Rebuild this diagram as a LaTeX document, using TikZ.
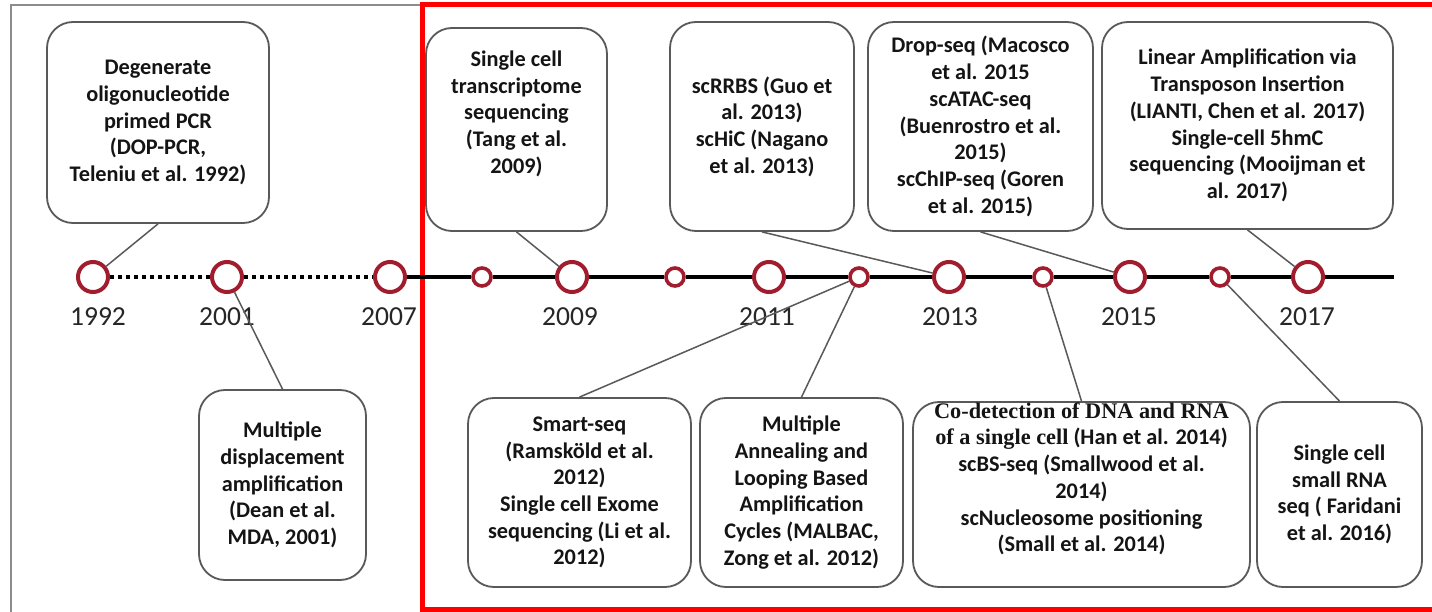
\documentclass[tikz,border=0pt]{standalone}
\usepackage{fontspec}
\setmainfont{Carlito}
\newfontfamily\tnr{Liberation Serif}
\definecolor{ringred}{HTML}{A11D2E}
\begin{document}
\begin{tikzpicture}[x=1pt,y=-1pt,
  box/.style={draw=black!65, line width=1.8pt, rounded corners=26pt, fill=white,
    align=center, inner sep=0pt, text=black!92,
    font=\fontsize{22.3}{26.7}\selectfont\bfseries},
  bigc/.style={circle, draw=ringred, line width=4pt, fill=white, minimum size=30pt, inner sep=0pt},
  smallc/.style={circle, draw=ringred, line width=3.6pt, fill=white, minimum size=18pt, inner sep=0pt},
  yearlbl/.style={text=black!85, font=\fontsize{27.5}{30}\selectfont, inner sep=0pt},
  conn/.style={draw=black!65, line width=1.5pt},
  tline/.style={line width=3.6pt, black},
  dotline/.style={line width=3.6pt, black, dash pattern=on 3.5pt off 4.5pt}
]
\useasboundingbox (0,0) rectangle (1432,612);
\fill[white] (0,0) rectangle (1432,612);
% gray frame
\draw[black!45, line width=2.2pt] (11,612) -- (11,5) -- (430,5);
% red frame
\draw[red, line width=5.5pt] (1445,4.5) -- (422.5,4.5) -- (422.5,609.5) -- (1445,609.5);

% circles
\node[bigc] (c1992) at (93,277) {};
\node[bigc] (c2001) at (227,277) {};
\node[bigc] (c2007) at (390,277) {};
\node[smallc] (s1) at (482,277) {};
\node[bigc] (c2009) at (572,277) {};
\node[smallc] (s2) at (675,277) {};
\node[bigc] (c2011) at (769,277) {};
\node[smallc] (s3) at (859,277) {};
\node[bigc] (c2013) at (949,277) {};
\node[smallc] (s4) at (1043,277) {};
\node[bigc] (c2015) at (1130,277) {};
\node[smallc] (s5) at (1220,277) {};
\node[bigc] (c2017) at (1308,277) {};
\coordinate (tend) at (1394,277);

% timeline
\draw[dotline] (c1992) -- (c2001);
\draw[dotline] (c2001) -- (c2007);
\draw[tline] (c2007) -- (s1) -- (c2009) -- (s2) -- (c2011) -- (s3) -- (c2013) -- (s4) -- (c2015) -- (s5) -- (c2017) -- (tend);

% years
\node[yearlbl] (y1992) at (98,317) {1992};
\node[yearlbl] (y2001) at (227,317) {2001};
\node[yearlbl] (y2007) at (389,317) {2007};
\node[yearlbl] (y2009) at (570,317) {2009};
\node[yearlbl] (y2011) at (767,317) {2011};
\node[yearlbl] (y2013) at (950,317) {2013};
\node[yearlbl] (y2015) at (1129,317) {2015};
\node[yearlbl] (y2017) at (1307,317) {2017};

% top boxes
\node[box, minimum width=222pt, minimum height=201pt] (dop) at (158,122.5)
  {Degenerate\\ oligonucleotide\\ primed PCR\\ (DOP-PCR,\\ Teleniu et al. 1992)};
\node[box, minimum width=181pt, minimum height=203pt] (tang) at (516.5,129.5)
  {Single cell\\ transcriptome\\ sequencing\\ (Tang et al.\\ 2009)\\[0pt]\strut};
\node[box, minimum width=184pt, minimum height=209pt] (rrbs) at (762,126.5)
  {scRRBS (Guo et\\ al. 2013)\\ scHiC (Nagano\\ et al. 2013)};
\node[box, minimum width=225pt, minimum height=209pt] (drop) at (980.5,126.5)
  {Drop-seq (Macosco\\ et al. 2015\\ scATAC-seq\\ (Buenrostro et al.\\ 2015)\\ scChIP-seq (Goren\\ et al. 2015)};
\node[box, minimum width=291pt, minimum height=207pt] (lianti) at (1247.5,125.5)
  {Linear Amplification via\\ Transposon Insertion\\ (LIANTI, Chen et al. 2017)\\ Single-cell 5hmC\\ sequencing (Mooijman et\\ al. 2017)};

% bottom boxes
\node[box, minimum width=167pt, minimum height=190pt] (mda) at (282.5,485)
  {Multiple\\ displacement\\ amplification\\ (Dean et al.\\ MDA, 2001)};
\node[box, minimum width=223pt, minimum height=189pt] (smart) at (579.5,492.5)
  {Smart-seq\\ (Ramsköld et al.\\ 2012)\\ Single cell Exome\\ sequencing (Li et al.\\ 2012)};
\node[box, minimum width=203pt, minimum height=189pt] (malbac) at (801.5,492.5)
  {Multiple\\ Annealing and\\ Looping Based\\ Amplification\\ Cycles (MALBAC,\\ Zong et al. 2012)};
\node[box, minimum width=337pt, minimum height=185pt] (codet) at (1081.5,494.5)
  {{\tnr Co-detection of DNA and RNA}\\ {\tnr of a single cell} (Han et al. 2014)\\ scBS-seq (Smallwood et al.\\ 2014)\\ scNucleosome positioning\\ (Small et al. 2014)\\[0pt]\strut};
\node[box, minimum width=165pt, minimum height=185pt] (farid) at (1339.5,494.5)
  {Single cell\\ small RNA\\ seq ( Faridani\\ et al. 2016)};

% connectors
\draw[conn] (dop.south) -- (c1992);
\draw[conn] (tang.south) -- (c2009);
\draw[conn] (rrbs.south) -- (c2013);
\draw[conn] (drop.south) -- (c2015);
\draw[conn] (lianti.south) -- (c2017);
\draw[conn] (mda.north) -- (c2001);
\draw[conn] (smart.north) -- (s3);
\draw[conn] (malbac.north) -- (s3);
\draw[conn] (codet.north) -- (s4);
\draw[conn] (farid.north) -- (s5);
\end{tikzpicture}
\end{document}
